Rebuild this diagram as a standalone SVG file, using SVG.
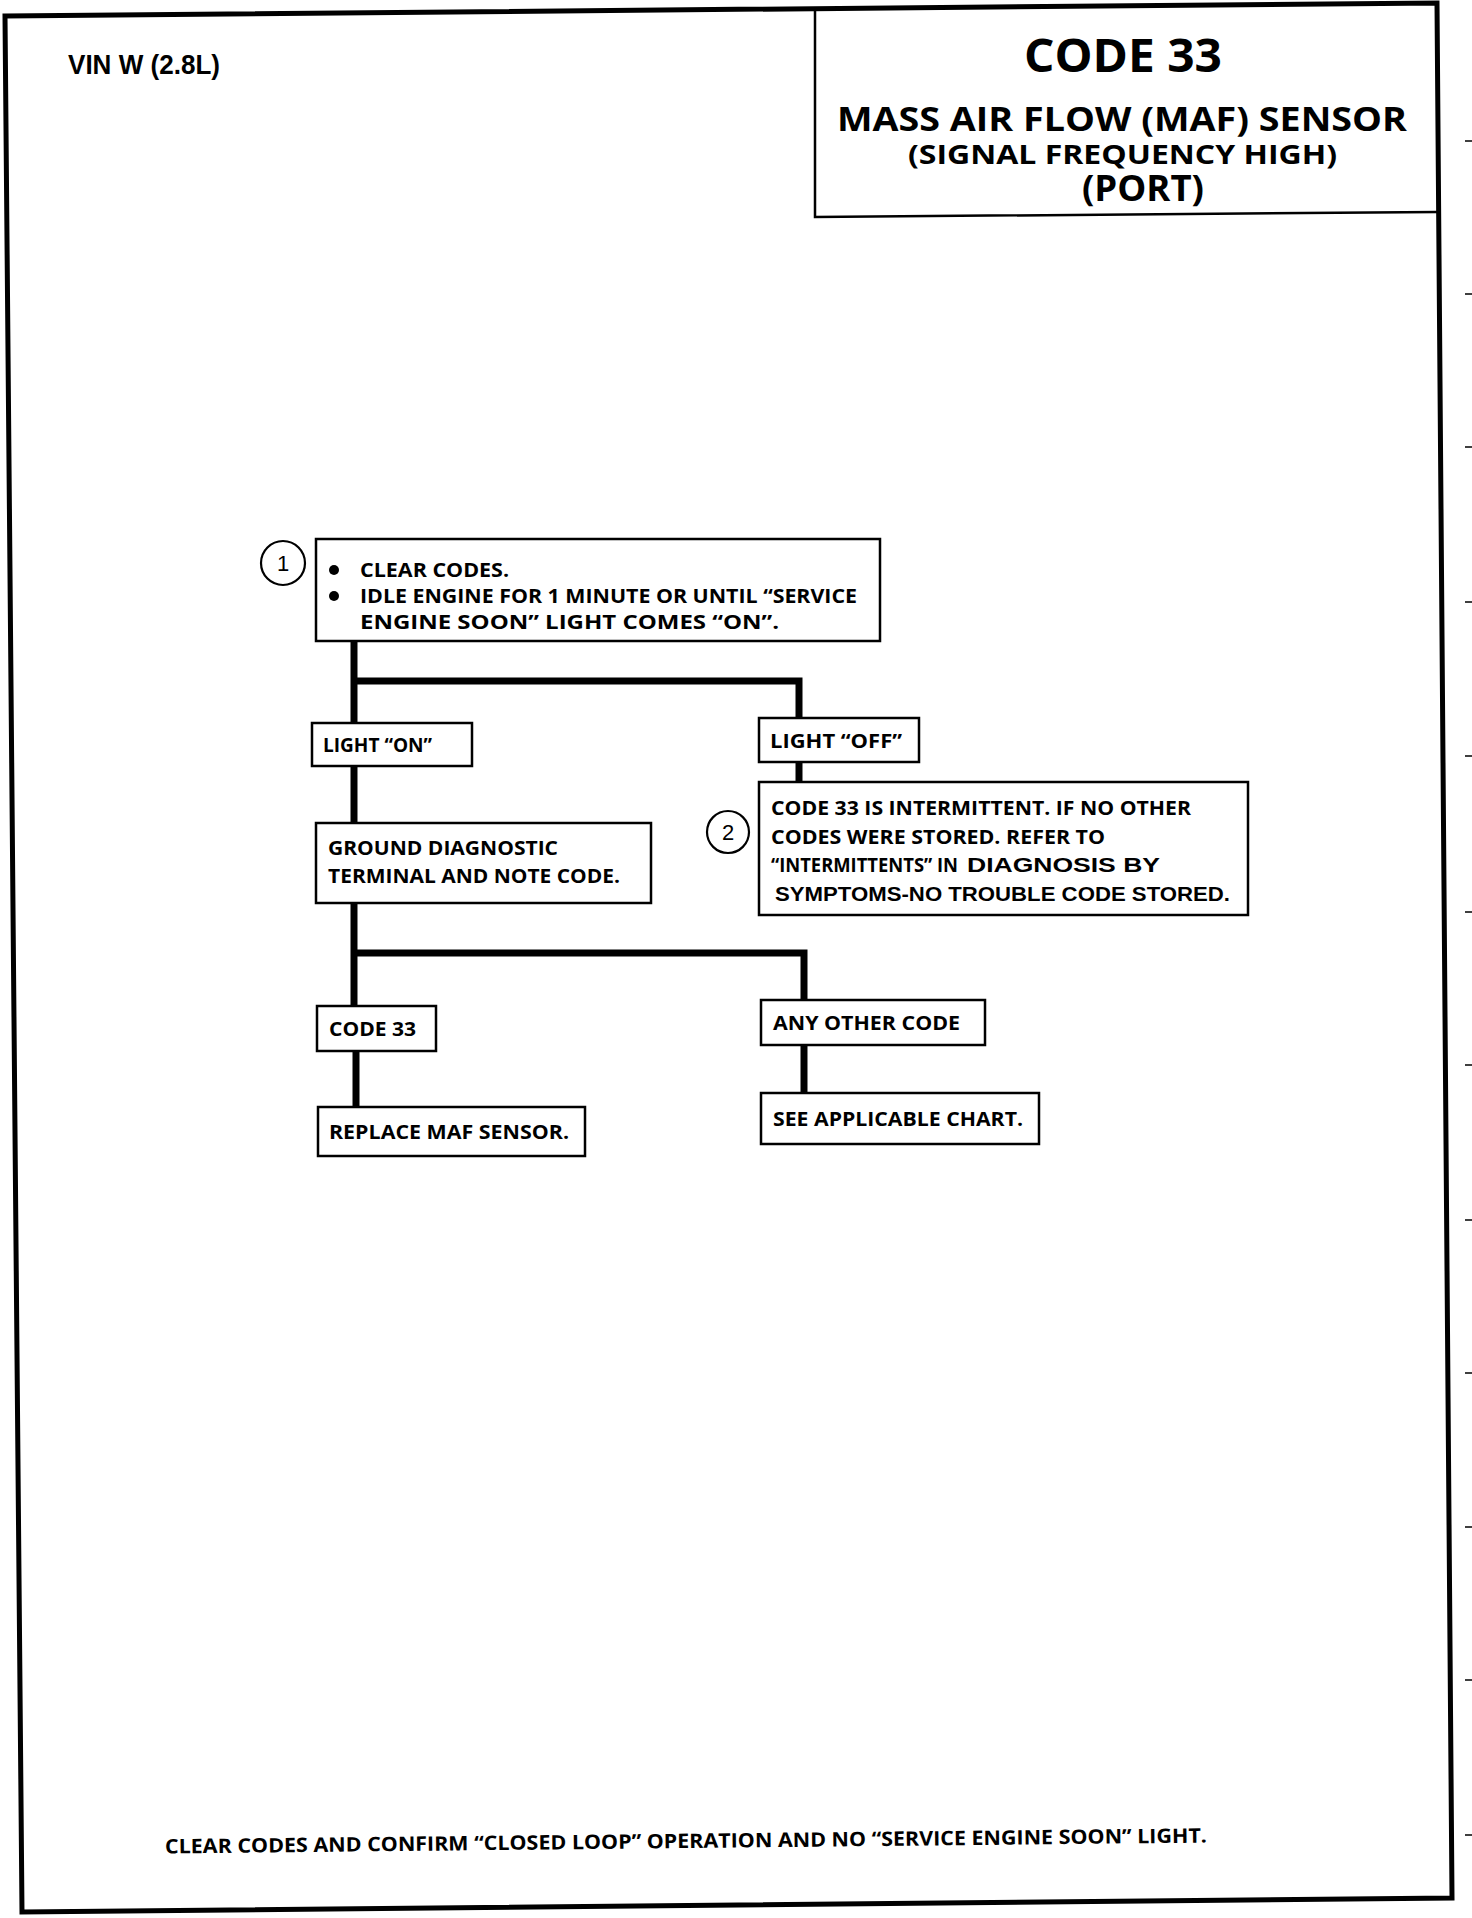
<svg xmlns="http://www.w3.org/2000/svg" width="1472" height="1918" viewBox="0 0 1472 1918">
<style>
.bg{fill:#fff}
.page{fill:none;stroke:#000;stroke-width:5;stroke-linejoin:miter}
.hdr{fill:none;stroke:#000;stroke-width:2.5}
.box{fill:#fff;stroke:#000;stroke-width:2.5}
.num{fill:#fff;stroke:#000;stroke-width:2.2}
.con{fill:none;stroke:#000;stroke-width:7;stroke-linecap:butt;stroke-linejoin:miter}
.tick{stroke:#000;stroke-width:1.5}
.t{font-family:"Open Sans","Liberation Sans",sans-serif;font-weight:bold;fill:#000}
.a{font-family:"Liberation Sans",Arial,sans-serif;font-weight:bold;fill:#000}
.d{font-family:"Liberation Sans",Arial,sans-serif;fill:#000;font-size:22px}
.n{font-size:20px}
</style>
<rect class="bg" x="0" y="0" width="1472" height="1918"/>
<g id="page">
<polygon class="page" points="5,16 1437,3 1452,1898 22,1912"/>
<polyline class="hdr" points="815,8 815,217 1438,212"/>
<g id="ticks">
<line class="tick" x1="1465" y1="141" x2="1472" y2="141"/>
<line class="tick" x1="1465" y1="294" x2="1472" y2="294"/>
<line class="tick" x1="1465" y1="447" x2="1472" y2="447"/>
<line class="tick" x1="1465" y1="602" x2="1472" y2="602"/>
<line class="tick" x1="1465" y1="756" x2="1472" y2="756"/>
<line class="tick" x1="1465" y1="912" x2="1472" y2="912"/>
<line class="tick" x1="1465" y1="1065" x2="1472" y2="1065"/>
<line class="tick" x1="1465" y1="1220" x2="1472" y2="1220"/>
<line class="tick" x1="1465" y1="1373" x2="1472" y2="1373"/>
<line class="tick" x1="1465" y1="1527" x2="1472" y2="1527"/>
<line class="tick" x1="1465" y1="1680" x2="1472" y2="1680"/>
<line class="tick" x1="1465" y1="1835" x2="1472" y2="1835"/>
</g>
</g>
<g id="header">
<text class="a" x="68" y="74" font-size="27" textLength="152" lengthAdjust="spacingAndGlyphs">VIN W (2.8L)</text>
<text class="t" x="1024" y="72" font-size="47" textLength="198" lengthAdjust="spacingAndGlyphs">CODE 33</text>
<text class="t" x="837" y="131" font-size="34" textLength="570" lengthAdjust="spacingAndGlyphs">MASS AIR FLOW (MAF) SENSOR</text>
<text class="t" x="908" y="164" font-size="27" textLength="429" lengthAdjust="spacingAndGlyphs">(SIGNAL FREQUENCY HIGH)</text>
<text class="t" x="1082" y="201" font-size="36" textLength="122" lengthAdjust="spacingAndGlyphs">(PORT)</text>
</g>
<g id="connectors">
<path class="con" d="M354,641 V723"/>
<path class="con" d="M354,681 H799 V718"/>
<path class="con" d="M799,762 V782"/>
<path class="con" d="M354,766 V823"/>
<path class="con" d="M354,903 V1006"/>
<path class="con" d="M354,953 H804 V1000"/>
<path class="con" d="M356,1051 V1107"/>
<path class="con" d="M804,1045 V1093"/>
</g>
<g id="node-1">
<circle class="num" cx="283" cy="563" r="22"/>
<text class="d" x="283" y="571" text-anchor="middle">1</text>
<rect class="box" x="316" y="539" width="564" height="102"/>
<circle cx="334" cy="570" r="5"/>
<circle cx="334" cy="596" r="5"/>
<text class="t n" x="360" y="577" textLength="149" lengthAdjust="spacingAndGlyphs">CLEAR CODES.</text>
<text class="t n" x="360" y="603" textLength="497" lengthAdjust="spacingAndGlyphs">IDLE ENGINE FOR 1 MINUTE OR  UNTIL “SERVICE</text>
<text class="t n" x="360" y="629" textLength="419" lengthAdjust="spacingAndGlyphs">ENGINE SOON” LIGHT COMES “ON”.</text>
</g>
<g id="light-on">
<rect class="box" x="312" y="723" width="160" height="43"/>
<text class="t n" x="323" y="752" textLength="109" lengthAdjust="spacingAndGlyphs">LIGHT “ON”</text>
</g>
<g id="light-off">
<rect class="box" x="759" y="718" width="160" height="44"/>
<text class="t n" x="770" y="748" textLength="132" lengthAdjust="spacingAndGlyphs">LIGHT “OFF”</text>
</g>
<g id="node-2">
<circle class="num" cx="728" cy="832" r="21"/>
<text class="d" x="728" y="840" text-anchor="middle">2</text>
<rect class="box" x="759" y="782" width="489" height="133"/>
<text class="t n" x="771" y="815" textLength="420" lengthAdjust="spacingAndGlyphs">CODE 33 IS INTERMITTENT.  IF NO OTHER</text>
<text class="t n" x="771" y="844" textLength="334" lengthAdjust="spacingAndGlyphs">CODES WERE STORED. REFER TO</text>
<text class="t n" x="771" y="872" textLength="187" lengthAdjust="spacingAndGlyphs">“INTERMITTENTS” IN</text>
<text class="a n" x="967" y="872" textLength="193" lengthAdjust="spacingAndGlyphs">DIAGNOSIS BY</text>
<text class="a n" x="775" y="901" textLength="455" lengthAdjust="spacingAndGlyphs">SYMPTOMS-NO TROUBLE CODE STORED.</text>
</g>
<g id="ground">
<rect class="box" x="316" y="823" width="335" height="80"/>
<text class="t n" x="328" y="855" textLength="230" lengthAdjust="spacingAndGlyphs">GROUND DIAGNOSTIC</text>
<text class="t n" x="328" y="883" textLength="292" lengthAdjust="spacingAndGlyphs">TERMINAL AND NOTE CODE.</text>
</g>
<g id="code-33">
<rect class="box" x="317" y="1006" width="119" height="45"/>
<text class="t n" x="329" y="1036" textLength="87" lengthAdjust="spacingAndGlyphs">CODE 33</text>
</g>
<g id="any-other">
<rect class="box" x="761" y="1000" width="224" height="45"/>
<text class="t n" x="773" y="1030" textLength="187" lengthAdjust="spacingAndGlyphs">ANY OTHER CODE</text>
</g>
<g id="replace">
<rect class="box" x="318" y="1107" width="267" height="49"/>
<text class="t n" x="329" y="1139" textLength="240" lengthAdjust="spacingAndGlyphs">REPLACE MAF SENSOR.</text>
</g>
<g id="see-chart">
<rect class="box" x="761" y="1093" width="278" height="51"/>
<text class="t n" x="773" y="1126" textLength="250" lengthAdjust="spacingAndGlyphs">SEE APPLICABLE CHART.</text>
</g>
<g id="footer">
<text class="t" x="165" y="1848" font-size="20" textLength="1042" lengthAdjust="spacingAndGlyphs" transform="rotate(-0.6 686 1848)">CLEAR CODES AND CONFIRM “CLOSED LOOP”  OPERATION AND NO “SERVICE ENGINE SOON” LIGHT.</text>
</g>
</svg>
